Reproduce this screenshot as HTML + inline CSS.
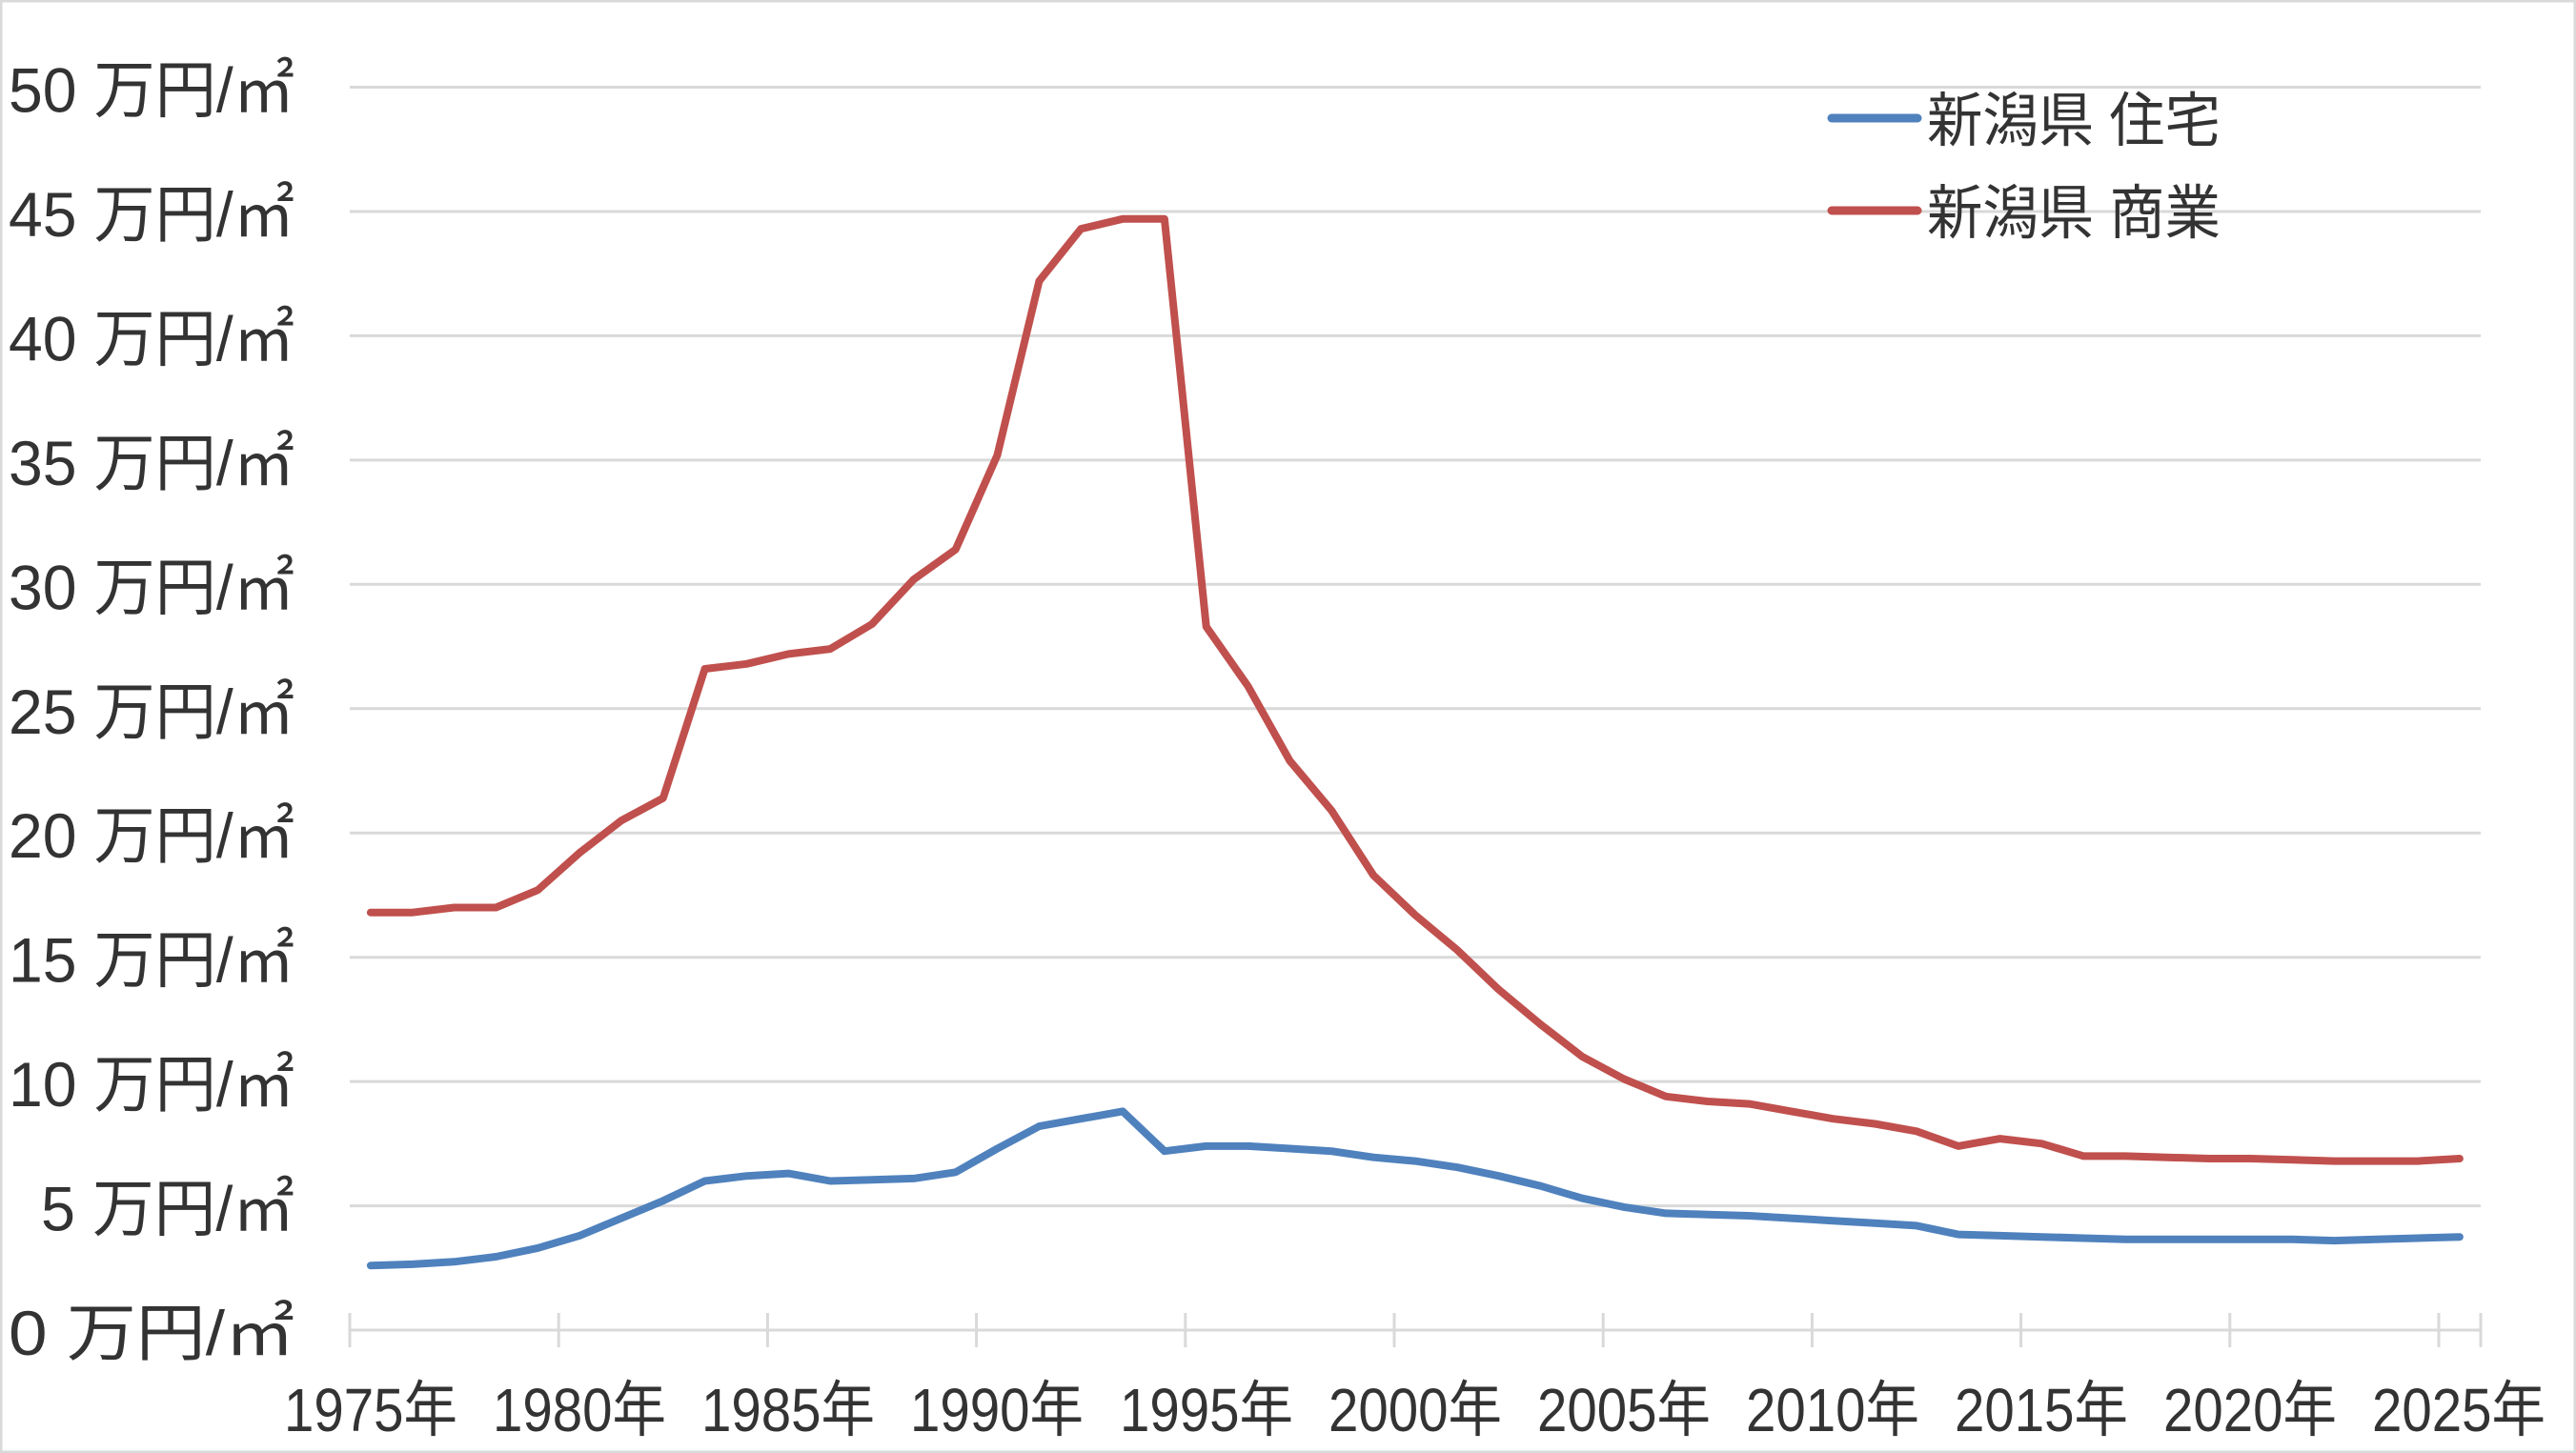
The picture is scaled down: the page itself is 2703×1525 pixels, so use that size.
<!DOCTYPE html>
<html><head><meta charset="utf-8"><style>
html,body{margin:0;padding:0;background:#fff}
svg{display:block}
text{font-family:"Liberation Sans","Noto Sans CJK JP",sans-serif;fill:#333}
</style></head><body>
<svg id="s" width="2703" height="1525" viewBox="0 0 2703 1525" xmlns="http://www.w3.org/2000/svg">
<rect x="1" y="1" width="2701" height="1523" fill="#fff" stroke="#d9d9d9" stroke-width="3"/>
<g stroke="#d9d9d9" stroke-width="3">
<line x1="367" x2="2603" y1="1396" y2="1396"/>
<line x1="367" x2="2603" y1="1265.6" y2="1265.6"/>
<line x1="367" x2="2603" y1="1135.1" y2="1135.1"/>
<line x1="367" x2="2603" y1="1004.7" y2="1004.7"/>
<line x1="367" x2="2603" y1="874.2" y2="874.2"/>
<line x1="367" x2="2603" y1="743.8" y2="743.8"/>
<line x1="367" x2="2603" y1="613.3" y2="613.3"/>
<line x1="367" x2="2603" y1="482.9" y2="482.9"/>
<line x1="367" x2="2603" y1="352.4" y2="352.4"/>
<line x1="367" x2="2603" y1="222" y2="222"/>
<line x1="367" x2="2603" y1="91.5" y2="91.5"/>
</g>
<g id="ticks" stroke="#d9d9d9" stroke-width="3"></g>
<g font-size="66">
<text x="9" y="1422" textLength="300" lengthAdjust="spacingAndGlyphs">0 万円/㎡</text>
<text x="43" y="1291.6" textLength="266" lengthAdjust="spacingAndGlyphs">5 万円/㎡</text>
<text x="9" y="1161.1" textLength="300" lengthAdjust="spacingAndGlyphs">10 万円/㎡</text>
<text x="9" y="1030.7" textLength="300" lengthAdjust="spacingAndGlyphs">15 万円/㎡</text>
<text x="9" y="900.2" textLength="300" lengthAdjust="spacingAndGlyphs">20 万円/㎡</text>
<text x="9" y="769.8" textLength="300" lengthAdjust="spacingAndGlyphs">25 万円/㎡</text>
<text x="9" y="639.3" textLength="300" lengthAdjust="spacingAndGlyphs">30 万円/㎡</text>
<text x="9" y="508.9" textLength="300" lengthAdjust="spacingAndGlyphs">35 万円/㎡</text>
<text x="9" y="378.4" textLength="300" lengthAdjust="spacingAndGlyphs">40 万円/㎡</text>
<text x="9" y="248" textLength="300" lengthAdjust="spacingAndGlyphs">45 万円/㎡</text>
<text x="9" y="117.5" textLength="300" lengthAdjust="spacingAndGlyphs">50 万円/㎡</text>
</g>
<g font-size="64" text-anchor="middle">
<text x="389" y="1502" textLength="182" lengthAdjust="spacingAndGlyphs">1975年</text>
<text x="608" y="1502" textLength="182" lengthAdjust="spacingAndGlyphs">1980年</text>
<text x="827" y="1502" textLength="182" lengthAdjust="spacingAndGlyphs">1985年</text>
<text x="1046" y="1502" textLength="182" lengthAdjust="spacingAndGlyphs">1990年</text>
<text x="1266" y="1502" textLength="182" lengthAdjust="spacingAndGlyphs">1995年</text>
<text x="1485" y="1502" textLength="182" lengthAdjust="spacingAndGlyphs">2000年</text>
<text x="1704" y="1502" textLength="182" lengthAdjust="spacingAndGlyphs">2005年</text>
<text x="1923" y="1502" textLength="182" lengthAdjust="spacingAndGlyphs">2010年</text>
<text x="2142" y="1502" textLength="182" lengthAdjust="spacingAndGlyphs">2015年</text>
<text x="2361" y="1502" textLength="182" lengthAdjust="spacingAndGlyphs">2020年</text>
<text x="2580" y="1502" textLength="182" lengthAdjust="spacingAndGlyphs">2025年</text>
</g>
<polyline id="red" fill="none" stroke="#c0504d" stroke-width="8" stroke-linejoin="round" stroke-linecap="round" points=""/>
<polyline id="blue" fill="none" stroke="#4f81bd" stroke-width="8" stroke-linejoin="round" stroke-linecap="round" points=""/>
<line x1="1922" x2="2012" y1="124" y2="124" stroke="#4f81bd" stroke-width="9" stroke-linecap="round"/>
<line x1="1922" x2="2012" y1="221" y2="221" stroke="#c0504d" stroke-width="9" stroke-linecap="round"/>
<text x="2022" y="148" font-size="62" textLength="308" lengthAdjust="spacingAndGlyphs">新潟県 住宅</text>
<text x="2022" y="245" font-size="62" textLength="308" lengthAdjust="spacingAndGlyphs">新潟県 商業</text>
</svg>
<script>
var red=[16.8,16.8,17.0,17.0,17.7,19.2,20.5,21.4,26.6,26.8,27.2,27.4,28.4,30.2,31.4,35.2,42.2,44.3,44.7,44.7,28.3,25.9,22.9,20.9,18.3,16.7,15.3,13.7,12.3,11.0,10.1,9.4,9.2,9.1,8.8,8.5,8.3,8.0,7.4,7.7,7.5,7.0,7.0,6.95,6.9,6.9,6.85,6.8,6.8,6.8,6.9];
var blue=[2.6,2.65,2.75,2.95,3.3,3.8,4.5,5.2,6.0,6.2,6.3,6.0,6.05,6.1,6.35,7.3,8.2,8.5,8.8,7.2,7.4,7.4,7.3,7.2,6.95,6.8,6.55,6.2,5.8,5.3,4.95,4.7,4.65,4.6,4.5,4.4,4.3,4.2,3.85,3.8,3.75,3.7,3.65,3.65,3.65,3.65,3.65,3.6,3.65,3.7,3.75];
var L=367,W=43.84;
function pts(a){return a.map(function(v,i){return (L+(i+0.5)*W).toFixed(1)+","+(1396-26.09*v).toFixed(1)}).join(" ")}
document.getElementById("red").setAttribute("points",pts(red));
document.getElementById("blue").setAttribute("points",pts(blue));
var t=document.getElementById("ticks"),h="";
for(var k=0;k<=51;k+=5){var x=L+k*W;h+='<line x1="'+x+'" x2="'+x+'" y1="1378" y2="1414"/>';}
h+='<line x1="2603" x2="2603" y1="1378" y2="1414"/>';
t.innerHTML=h;
</script>
</body></html>
